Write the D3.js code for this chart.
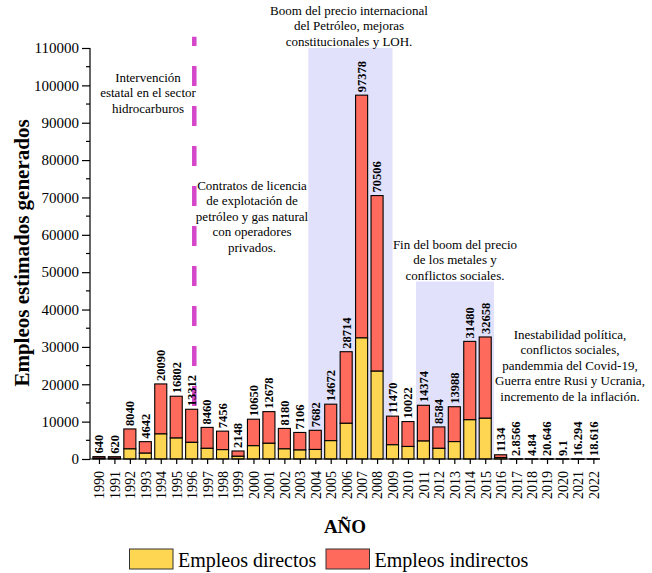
<!DOCTYPE html>
<html>
<head>
<meta charset="utf-8">
<script src="https://cdn.jsdelivr.net/npm/d3@7/dist/d3.min.js"></script>
<style>
  html, body { margin: 0; padding: 0; background: #fff; }
  svg { display: block; }
  text { font-family: "Liberation Serif", "Times New Roman", serif; fill: #000; }
</style>
</head>
<body>
<svg id="chart" width="652" height="573"></svg>
<script>
// ---------------- DATA ----------------
const years = [1990,1991,1992,1993,1994,1995,1996,1997,1998,1999,2000,2001,2002,2003,2004,2005,
               2006,2007,2008,2009,2010,2011,2012,2013,2014,2015,2016,2017,2018,2019,2020,2021,2022];
const totalValues = [640,620,8040,4642,20090,16802,13312,8460,7456,2148,10650,12678,8180,7106,7682,14672,
               28714,97378,70506,11470,10022,14374,8584,13988,31480,32658,1134,2.8566,4.84,20.646,9.1,16.294,18.616];
const totalLabels = ["640","620","8040","4642","20090","16802","13312","8460","7456","2148","10650","12678","8180","7106","7682","14672",
               "28714","97378","70506","11470","10022","14374","8584","13988","31480","32658","1134","2.8566","4.84","20.646","9.1","16.294","18.616"];
const directValues = [210,200,2700,1550,6700,5600,4450,2850,2500,720,3550,4200,2700,2400,2550,4900,
               9550,32400,23500,3800,3350,4800,2850,4650,10500,10900,380,1,1.6,6.9,3,5.4,6.2];
const yTicks = [0,10000,20000,30000,40000,50000,60000,70000,80000,90000,100000,110000];
const seriesNames = ["Empleos directos", "Empleos indirectos"];
const boomPeriod = [2003.55, 2009.0, 110000];
const endBoomPeriod = [2010.52, 2015.57, 47500];
const contractYear = 1996.17;

// ---------------- SETUP ----------------
const colDirect = "#fed651", colIndirect = "#fe6a5c", shade = "#e1e1fb";
const svg = d3.select("#chart");
const x = d3.scaleLinear().domain([1989.42, 2022.3]).range([90, 598]);
const y = d3.scaleLinear().domain([0, 110000]).range([459, 48]);
const barW = x(1990.78) - x(1990);

// shaded periods
[boomPeriod, endBoomPeriod].forEach(p => {
  svg.append("rect")
    .attr("x", x(p[0])).attr("width", x(p[1]) - x(p[0]))
    .attr("y", y(p[2])).attr("height", y(0) - y(p[2]))
    .attr("fill", shade);
});

// dashed line
svg.append("line")
  .attr("x1", x(contractYear)).attr("x2", x(contractYear))
  .attr("y1", 36.7).attr("y2", y(0))
  .attr("stroke", "#d447c9").attr("stroke-width", 4.5)
  .attr("stroke-dasharray", "20,20").attr("stroke-dashoffset", 10.7);

// bars
const rows = years.map((yr, i) => ({ yr, total: totalValues[i], direct: directValues[i], label: totalLabels[i] }));
const g = svg.append("g");
g.selectAll("rect.ind").data(rows).join("rect")
  .attr("class", "ind")
  .attr("x", d => x(d.yr) - barW / 2).attr("width", barW)
  .attr("y", d => y(d.total)).attr("height", d => y(d.direct) - y(d.total))
  .attr("fill", colIndirect).attr("stroke", "#000").attr("stroke-width", 1.1);
g.selectAll("rect.dir").data(rows).join("rect")
  .attr("class", "dir")
  .attr("x", d => x(d.yr) - barW / 2).attr("width", barW)
  .attr("y", d => y(d.direct)).attr("height", d => y(0) - y(d.direct))
  .attr("fill", colDirect).attr("stroke", "#000").attr("stroke-width", 1.1);

// value labels
g.selectAll("text.val").data(rows).join("text")
  .attr("class", "val")
  .attr("transform", d => `translate(${x(d.yr)},${y(d.total) - 3}) rotate(-90)`)
  .attr("dy", "0.35em")
  .attr("text-anchor", "start")
  .style("font-size", "12.5px").style("font-weight", "bold")
  .text(d => d.label);

// y axis
const yAxis = svg.append("g").attr("transform", `translate(90,0)`)
  .call(d3.axisLeft(y).tickValues(yTicks).tickSize(8).tickPadding(3).tickFormat(d3.format("d")));
yAxis.select(".domain").attr("stroke", "#000").attr("stroke-width", 1.2).attr("d", `M0,${y(110000)}V${y(0)}`);
yAxis.selectAll(".tick line").attr("stroke-width", 1.2);
yAxis.selectAll("text").style("font-size", "15px").style("font-family", '"Liberation Serif", serif');
// minor y ticks
svg.append("g").selectAll("line").data(yTicks.slice(0, -1).map(v => v + 5000)).join("line")
  .attr("x1", 86).attr("x2", 90).attr("y1", d => y(d)).attr("y2", d => y(d))
  .attr("stroke", "#000").attr("stroke-width", 1.2);

// x axis
const xAxis = svg.append("g").attr("transform", `translate(0,${y(0)})`)
  .call(d3.axisBottom(x).tickValues(years).tickSize(5).tickFormat(d3.format("d")));
xAxis.select(".domain").attr("stroke-width", 1.2).attr("d", `M90,0H598`);
xAxis.selectAll(".tick line").attr("stroke-width", 1.2);
xAxis.selectAll("text")
  .attr("transform", "rotate(-90)")
  .attr("x", -12).attr("y", 0).attr("dy", "0.35em")
  .attr("text-anchor", "end")
  .style("font-size", "14px").style("font-family", '"Liberation Serif", serif');

// axis titles
svg.append("text").attr("transform", "translate(29,253) rotate(-90)")
  .attr("text-anchor", "middle").style("font-size", "21px").style("font-weight", "bold")
  .text("Empleos estimados generados");
svg.append("text").attr("x", 345).attr("y", 533).attr("text-anchor", "middle")
  .style("font-size", "19px").style("font-weight", "bold").text("AÑO");

// annotations
const notes = [
  { cx: 148, y0: 81.5, lines: ["Intervención", "estatal en el sector", "hidrocarburos"] },
  { cx: 252, y0: 189.5, lines: ["Contratos de licencia", "de explotación de", "petróleo y gas natural", "con operadores", "privados."] },
  { cx: 349, y0: 14.5, lines: ["Boom del precio internacional", "del Petróleo, mejoras", "constitucionales y LOH."] },
  { cx: 455, y0: 248.5, lines: ["Fin del boom del precio", "de los metales y", "conflictos sociales."] },
  { cx: 570, y0: 338.5, lines: ["Inestabilidad política,", "conflictos sociales,", "pandemmia del Covid-19,", "Guerra entre Rusi y Ucrania,", "incremento de la inflación."] }
];
notes.forEach(n => {
  const t = svg.append("text").attr("text-anchor", "middle").style("font-size", "13px");
  n.lines.forEach((l, i) => t.append("tspan").attr("x", n.cx).attr("y", n.y0 + i * 15.6).text(l));
});

// legend
const leg = [{ x: 129.5, c: colDirect, tx: 178 }, { x: 326, c: colIndirect, tx: 374.5 }];
leg.forEach((l, i) => {
  svg.append("rect").attr("x", l.x).attr("y", 549).attr("width", 43.5).attr("height", 20)
    .attr("fill", l.c).attr("stroke", "#333").attr("stroke-width", 1);
  svg.append("text").attr("x", l.tx).attr("y", 566.5).style("font-size", "20px").text(seriesNames[i]);
});
</script>
</body>
</html>
